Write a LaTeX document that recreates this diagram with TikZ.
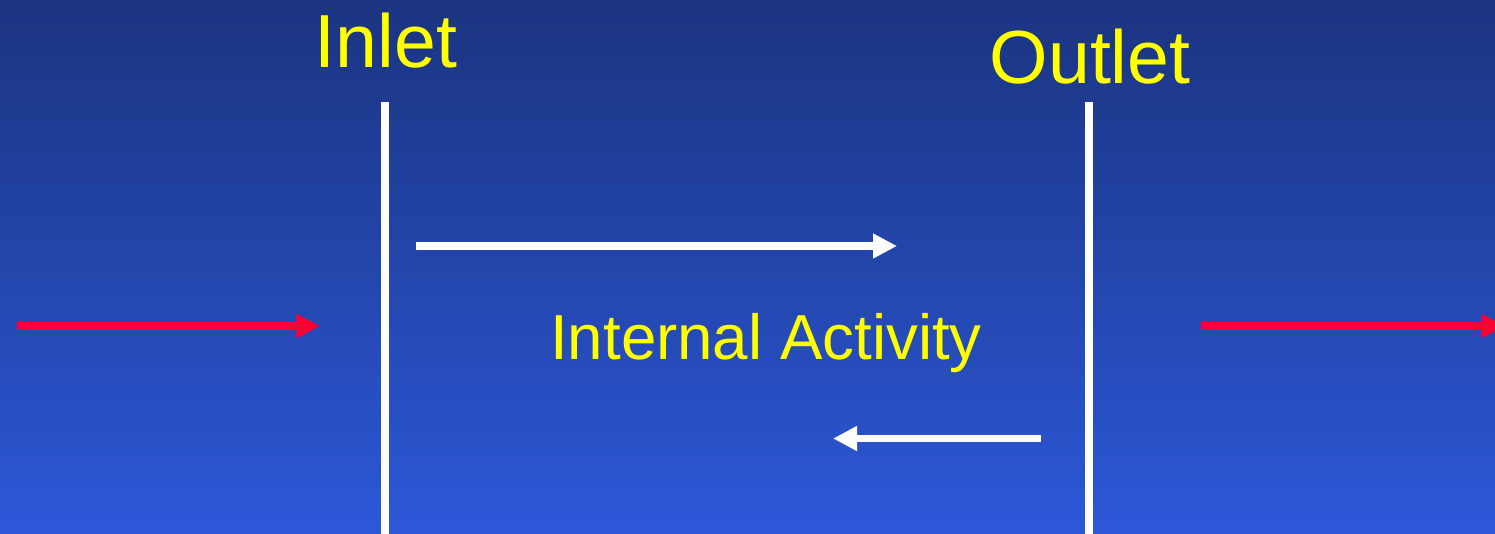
\documentclass[tikz,border=0pt]{standalone}
\usepackage{fontspec}
\setmainfont{Liberation Sans}
\usetikzlibrary{arrows.meta}
\definecolor{bgtop}{RGB}{27,52,128}
\definecolor{bgbot}{RGB}{44,88,216}
\definecolor{flowred}{RGB}{255,0,51}
\definecolor{labelyellow}{RGB}{255,255,0}
\tikzset{
  px/.style={x=0.01cm,y=-0.01cm},
  wall/.style={draw=white,line width=0.08cm},
  whitearrow/.style={draw=white,line width=0.078cm,-{Triangle[length=0.24cm,width=0.235cm]}},
  redarrow/.style={draw=flowred,line width=0.083cm,-{Triangle[length=0.235cm,width=0.225cm]}},
  biglabel/.style={text=labelyellow,font=\fontsize{21.4pt}{24pt}\selectfont,inner sep=0pt,anchor=base},
  midlabel/.style={text=labelyellow,font=\fontsize{18.1pt}{21pt}\selectfont,inner sep=0pt,anchor=base}
}
\begin{document}
\begin{tikzpicture}[px]
\clip (0,0) rectangle (1495,533);
\shade[top color=bgtop,bottom color=bgbot] (0,0) rectangle (1495,533);
% walls
\coordinate (inTop) at (385,102);
\coordinate (inBot) at (385,540);
\coordinate (outTop) at (1089,102);
\coordinate (outBot) at (1089,540);
\draw[wall] (inTop) -- (inBot);
\draw[wall] (outTop) -- (outBot);
% labels
\node[biglabel] (inlet) at (386,67) {Inlet};
\node[biglabel] (outlet) at (1090,83) {Outlet};
\node[midlabel] (internal) at (766,359) {Internal Activity};
% internal arrows
\coordinate (fwdS) at (416,246);
\coordinate (fwdE) at (897,246);
\coordinate (backS) at (1041,438.5);
\coordinate (backE) at (833,438.5);
\draw[whitearrow,line width=0.073cm] (fwdS) -- (fwdE);
\draw[whitearrow] (backS) -- (backE);
% external flow arrows
\coordinate (leftS) at (17,326);
\coordinate (leftE) at (320,326);
\coordinate (rightS) at (1201,326);
\coordinate (rightE) at (1505,326);
\draw[redarrow] (leftS) -- (leftE);
\draw[redarrow] (rightS) -- (rightE);
\end{tikzpicture}
\end{document}
